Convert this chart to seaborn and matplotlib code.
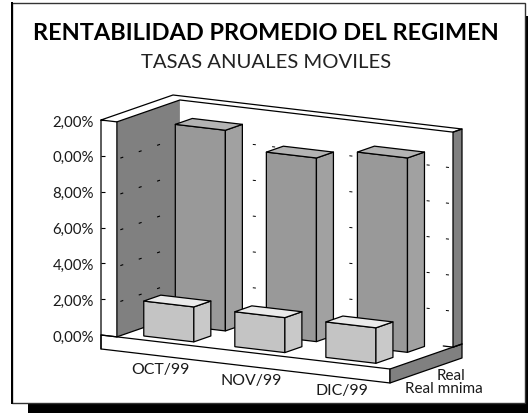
import matplotlib
matplotlib.use("Agg")
import matplotlib.pyplot as plt
import seaborn as sns
from matplotlib.patches import Polygon, Rectangle
from matplotlib.transforms import Affine2D

# datos
meses = ["OCT/99", "NOV/99", "DIC/99"]
real = [11.2, 10.25, 10.85]
real_minima = [1.95, 1.95, 1.98]
ticks = [0, 2, 4, 6, 8, 10, 12]
etiquetas_y = ["0,00%", "2,00%", "4,00%", "6,00%", "8,00%", "0,00%", "2,00%"]
series = ["Real", "Real mnima"]

W, H = 528, 414
# geometria del piso en pixeles
X0, Y0, ANCHO, PX_V = 101, 336, 289, 215 / 12
DX, DY = 72, 25
CAIDA = 34
X_MIN, X_MAX = -0.649, 2.525
ESP = X_MAX - X_MIN
T0 = 0.055
D_PARED = 0.875
D_REAL, D_MIN, D_GROSOR = 0.559, 0.121, 0.236

sns.set_style("white")
plt.rcParams["font.family"] = ["Lato", "DejaVu Sans"]
plt.rcParams["lines.scale_dashes"] = False

fig = plt.figure(figsize=(W / 100, H / 100), dpi=100, facecolor="white")
ax = fig.add_axes([X0 / W, (H - Y0) / H, ANCHO / W, 215 / H])
ax.patch.set_visible(False)


def pro(t, d, v):
    """t,d,v del grafico a coordenadas de datos del eje (proyeccion oblicua)"""
    tt = t + DX * d / ANCHO
    return X_MIN + tt * ESP, v - (CAIDA * t - DY * d) / PX_V


def cara(puntos, color, z, borde="none"):
    ax.add_patch(Polygon([pro(*p) for p in puntos], closed=True, facecolor=color,
                         edgecolor=borde, lw=0.9, zorder=z, clip_on=False,
                         joinstyle="round"))


def linea(puntos, z, **kw):
    xs, ys = zip(*[pro(*p) for p in puntos])
    kw.setdefault("color", "black")
    kw.setdefault("lw", 0.9)
    ax.plot(xs, ys, zorder=z, clip_on=False, **kw)


TOPE = ticks[-1]
BASE = -0.78

# piso y base
cara([(0, 0, 0), (1, 0, 0), (1, 1, 0), (0, 1, 0)], "white", 1)
cara([(0, 0, 0), (1, 0, 0), (1, 0, BASE), (0, 0, BASE)], "white", 1, "black")
cara([(1, 0, 0), (1, 1, 0), (1, 1, BASE), (1, 0, BASE)], "#808080", 1, "black")

# paredes
cara([(T0, 0, 0), (T0, D_PARED, 0), (T0, D_PARED, TOPE), (T0, 0, TOPE)], "#808080", 2)
cara([(1, D_PARED, 0), (1, 1, 0), (1, 1, TOPE), (1, D_PARED, TOPE)], "#808080", 2, "black")
linea([(0, 0, BASE), (0, 0, TOPE), (0, 1, TOPE), (1, 1, TOPE), (1, D_PARED, TOPE),
       (T0, D_PARED, TOPE), (T0, 0, TOPE), (0, 0, TOPE)], 3)
linea([(T0, 0, TOPE), (T0, 0, 0), (T0, 0.4, 0)], 3)
linea([(0, 0, 0), (T0, 0, 0)], 3)

# lineas de la grilla, quedan detras de las barras
trazo = (0, (2.2, 11.8))
for v in ticks[1:-1]:
    linea([(T0 + 0.012, 0, v), (T0 + 0.012, D_PARED, v)], 3, ls=trazo, lw=0.8)
    linea([(T0 - 0.015, D_PARED, v), (1, D_PARED, v)], 3, ls=trazo, lw=0.7)

# barras
sns.barplot(x=meses, y=real, color="#999999", saturation=1, width=0.55,
            edgecolor="black", linewidth=0.9, ax=ax)
sns.barplot(x=meses, y=real_minima, color="#c4c4c4", saturation=1, width=0.55,
            edgecolor="black", linewidth=0.9, ax=ax)

estilos = [(D_REAL, "#a1a1a1", "#b4b4b4", 5), (D_MIN, "#c9c9c9", "#ebebeb", 7)]
for barras, (d, lado, tapa, z) in zip(ax.containers, estilos):
    for b in barras:
        t1 = (b.get_x() - X_MIN) / ESP
        t2 = (b.get_x() + b.get_width() - X_MIN) / ESP
        v = b.get_height()
        d2 = d + D_GROSOR
        # la cara frontal de seaborn se inclina con la misma proyeccion
        pend = CAIDA / PX_V / ESP
        m = [[1, 0, DX * d / ANCHO * ESP],
             [-pend, 1, pend * X_MIN + DY * d / PX_V],
             [0, 0, 1]]
        b.set_transform(Affine2D(m) + ax.transData)
        b.set_clip_on(False)
        b.set_zorder(z)
        cara([(t2, d, 0), (t2, d2, 0), (t2, d2, v), (t2, d, v)], lado, z, "black")
        cara([(t1, d, v), (t2, d, v), (t2, d2, v), (t1, d2, v)], tapa, z, "black")

# borde de atras del piso, visible a la derecha de la ultima barra
ult = ax.containers[0][-1]
t_ult = (ult.get_x() + ult.get_width() - X_MIN) / ESP + DX * 0.02 / ANCHO
linea([(t_ult + 0.04, D_PARED, 0), (1, D_PARED, 0), (1, 1, 0)], 3)

# ejes
ax.set_xlim(X_MIN, X_MAX)
ax.set_ylim(0, TOPE)
ax.set_xticks([])
ax.set_xlabel("")
ax.set_yticks(ticks)
ax.set_yticklabels(etiquetas_y, fontsize=10.8, color="#1a1a1a")
ax.set_ylabel("")
ax.tick_params(axis="y", direction="in", length=3, width=0.8, color="black",
               pad=5, left=True)
sns.despine(ax=ax, left=True, bottom=True)

for i, mes in enumerate(meses):
    t = (i - X_MIN) / ESP
    px, py = pro(t, 0, -1.5)
    ax.text(px, py, mes, ha="center", va="center", fontsize=11.4,
            color="#1a1a1a", clip_on=False, zorder=9)
for nombre, d, v in zip(series, [0.85, 0.75], [-1.5, -2.1]):
    px, py = pro(1, d, v)
    ax.text(px, py, nombre, ha="center", va="center", fontsize=11,
            color="#1a1a1a", clip_on=False, zorder=9, linespacing=1)

# marco y sombra
pix = Affine2D().scale(1 / W, -1 / H).translate(0, 1) + fig.transFigure
fig.add_artist(Rectangle((28, 404.5), 500, 9.5, transform=pix, facecolor="black",
                         edgecolor="none", zorder=-2))
fig.add_artist(Rectangle((525.5, 17), 2.5, 397, transform=pix, facecolor="black",
                         edgecolor="none", zorder=-2))
fig.add_artist(Rectangle((12, 3.5), 513, 401, transform=pix, facecolor="white",
                         edgecolor="#333333", lw=1, zorder=-1))
fig.add_artist(Rectangle((10.8, 3), 2.4, 402, transform=pix, facecolor="black",
                         edgecolor="none", zorder=-1))

fig.text(266 / W, 1 - 34 / H, "RENTABILIDAD PROMEDIO DEL REGIMEN", ha="center",
         va="center", fontsize=16.9, fontweight="bold", color="black")
fig.text(266.5 / W, 1 - 62 / H, "TASAS ANUALES MOVILES", ha="center", va="center",
         fontsize=14.6, color="#222222")

fig.savefig("out.png", dpi=100)
